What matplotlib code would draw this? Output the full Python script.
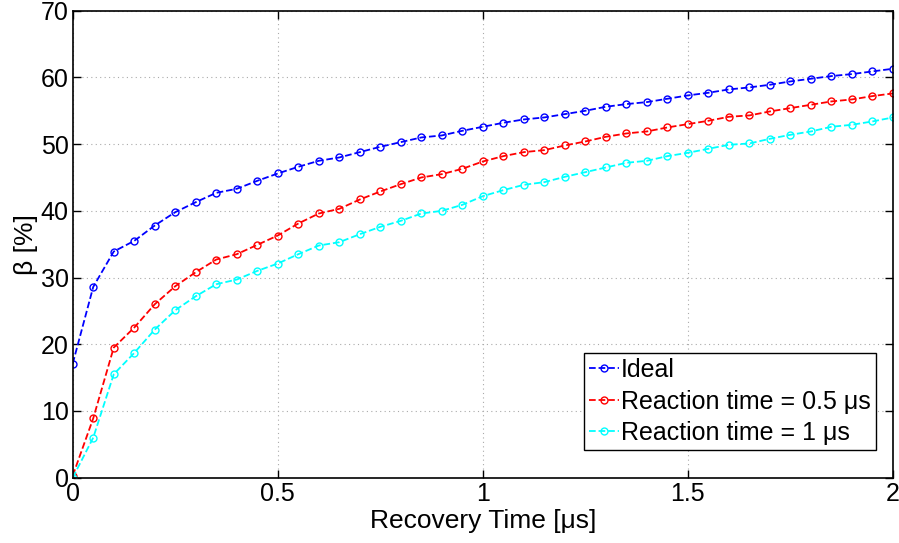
import matplotlib
matplotlib.use('Agg')
import matplotlib.pyplot as plt
import numpy as np

plt.rcParams['font.family'] = ['Liberation Sans', 'DejaVu Sans']

# recovery time in microseconds, 0.05 step
recovery = np.arange(41) * 0.05

ideal = [17.1, 28.6, 33.9, 35.5, 37.8, 39.8, 41.3, 42.7, 43.3, 44.5,
         45.6, 46.6, 47.5, 48.0, 48.8, 49.6, 50.3, 51.0, 51.3, 52.0,
         52.6, 53.2, 53.7, 54.0, 54.5, 55.0, 55.6, 56.0, 56.3, 56.8,
         57.3, 57.7, 58.2, 58.5, 58.9, 59.4, 59.8, 60.2, 60.5, 60.9,
         61.3]
react_05 = [0.3, 8.9, 19.5, 22.5, 26.0, 28.7, 30.8, 32.7, 33.5, 34.9,
            36.3, 38.1, 39.6, 40.3, 41.7, 42.9, 44.0, 45.0, 45.5, 46.3,
            47.4, 48.2, 48.8, 49.1, 49.8, 50.4, 51.1, 51.6, 51.9, 52.5,
            53.0, 53.5, 54.1, 54.3, 54.9, 55.4, 55.9, 56.4, 56.7, 57.2,
            57.6]
react_1 = [0.0, 6.0, 15.5, 18.7, 22.2, 25.1, 27.2, 29.0, 29.7, 31.0,
           32.1, 33.5, 34.8, 35.3, 36.5, 37.6, 38.5, 39.6, 40.0, 40.9,
           42.2, 43.1, 43.9, 44.3, 45.1, 45.8, 46.5, 47.2, 47.5, 48.2,
           48.7, 49.3, 49.9, 50.1, 50.8, 51.4, 51.9, 52.6, 52.9, 53.4,
           54.0]

labels = ['Ideal', u'Reaction time = 0.5 \u03bcs', u'Reaction time = 1 \u03bcs']
colors = ['#0000ff', '#ff0000', '#00ffff']

fig = plt.figure(figsize=(8.99, 5.43), dpi=100, facecolor='white')
ax = fig.add_axes([0.0809, 0.1203, 0.9124, 0.86])

for ys, c, lab in zip([ideal, react_05, react_1], colors, labels):
    ax.plot(recovery, ys, '--o', color=c, lw=1.3, ms=5,
            mfc='none', mec=c, mew=1.0, label=lab)

ax.set_xlim(0, 2)
ax.set_ylim(0, 70)
ax.set_xticks([0, 0.5, 1, 1.5, 2])
ax.set_xticklabels(['0', '0.5', '1', '1.5', '2'])
ax.set_yticks(range(0, 71, 10))
ax.grid(True, linestyle=(0, (1, 3)), color='#aaaaaa', lw=0.8)
ax.tick_params(direction='in', top=True, right=True, labelsize=18,
               length=6, width=1, pad=3)
for s in ax.spines.values():
    s.set_linewidth(1.2)

ax.set_xlabel(u'Recovery Time [\u03bcs]', fontsize=19, labelpad=2)
ax.set_ylabel(u'\u03b2 [%]', fontsize=19, labelpad=2)

leg = ax.legend(loc='lower right', bbox_to_anchor=(0.979, 0.059),
                borderaxespad=0, fontsize=18, handlelength=1.2,
                handletextpad=0.1, borderpad=0.2, labelspacing=0.3,
                fancybox=False, framealpha=1, edgecolor='black')
leg.get_frame().set_linewidth(1.0)

fig.savefig('out.png', dpi=100)
